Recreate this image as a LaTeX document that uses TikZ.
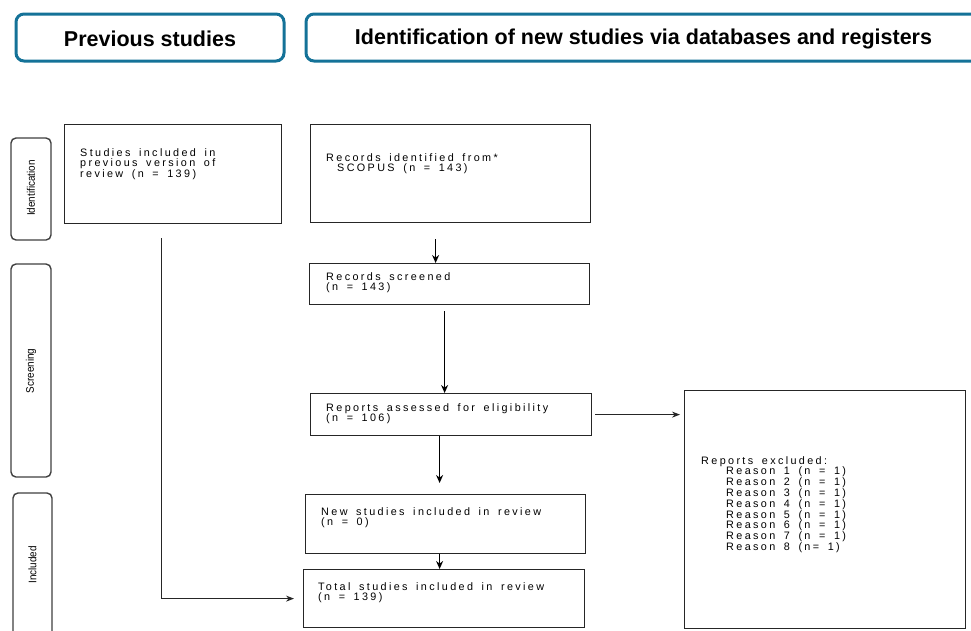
\documentclass[tikz,border=0pt]{standalone}
\usepackage{fontspec}
\setmainfont{Liberation Sans}
\newfontfamily\bxfont[LetterSpace=22,WordSpace=1.6]{Liberation Sans}
\newfontfamily\sidefont[FakeStretch=0.9]{Liberation Sans}
\usetikzlibrary{arrows.meta}
\definecolor{hdrblue}{RGB}{20,114,152}
\definecolor{sidegray}{RGB}{64,64,64}
\tikzset{
  hdrbox/.style={draw=hdrblue, line width=3pt, rounded corners=8pt},
  sidebox/.style={draw=sidegray, line width=1.4pt, rounded corners=5pt},
  flowbox/.style={draw=black!85, line width=1.2pt},
  hdrtext/.style={font=\fontsize{21.5}{24}\selectfont\bfseries, inner sep=0pt},
  sidetext/.style={font=\sidefont\fontsize{11}{12}\selectfont, rotate=90, inner sep=0pt},
  bxtext/.style={font=\bxfont\fontsize{10.8}{10.8}\selectfont, anchor=north west, align=left, inner sep=0pt},
  arr/.style={-{Stealth[length=8pt,width=7pt]}, line width=1.3pt, black},
  thinarr/.style={-{Stealth[length=8pt,width=6pt]}, line width=0.9pt, black!85},
}
\begin{document}
\begin{tikzpicture}[x=1pt,y=-1pt]
\useasboundingbox[fill=white] (0,0) rectangle (971,630);

% headers
\draw[hdrbox] (16,14) rectangle (284,61);
\node[hdrtext] (hprev) at (150,38.5) {Previous studies};
\draw[hdrbox] (306,14) rectangle (990,61);
\node[hdrtext] (hnew) at (643.5,38.5) {Identification of new studies via databases and registers};

% side labels
\draw[sidebox] (11,138) rectangle (51,240);
\node[sidetext] (sid) at (31,188) {Identification};
\draw[sidebox] (11,264) rectangle (51,477);
\node[sidetext] (sscr) at (31,371) {Screening};
\draw[sidebox] (13,493) rectangle (52,650);
\node[sidetext] (sinc) at (32.5,565) {Included};

% boxes
\node[flowbox, anchor=north west, minimum width=217pt, minimum height=99pt, inner sep=0pt] (prev) at (64,124) {};
\node[bxtext] (prevt) at (80,148) {Studies included in\\previous version of\\review (n = 139)};

\node[flowbox, anchor=north west, minimum width=280pt, minimum height=98pt, inner sep=0pt] (rec) at (310,124) {};
\node[bxtext] (rect) at (326,153) {Records identified from*\\\hspace*{11pt}SCOPUS (n = 143)};

\node[flowbox, anchor=north west, minimum width=280pt, minimum height=41pt, inner sep=0pt] (scr) at (309,263) {};
\node[bxtext] (scrt) at (326,272) {Records screened\\(n = 143)};

\node[flowbox, anchor=north west, minimum width=281pt, minimum height=42pt, inner sep=0pt] (rep) at (310,393) {};
\node[bxtext] (rept) at (326,403) {Reports assessed for eligibility\\(n = 106)};

\node[flowbox, anchor=north west, minimum width=281pt, minimum height=238pt, inner sep=0pt] (exc) at (684,390) {};
\node[bxtext] (exct) at (701,456) {Reports excluded:\\
\hspace*{25pt}Reason 1 (n = 1)\\
\hspace*{25pt}Reason 2 (n = 1)\\
\hspace*{25pt}Reason 3 (n = 1)\\
\hspace*{25pt}Reason 4 (n = 1)\\
\hspace*{25pt}Reason 5 (n = 1)\\
\hspace*{25pt}Reason 6 (n = 1)\\
\hspace*{25pt}Reason 7 (n = 1)\\
\hspace*{25pt}Reason 8 (n= 1)};

\node[flowbox, anchor=north west, minimum width=280pt, minimum height=59pt, inner sep=0pt] (newst) at (305,494) {};
\node[bxtext] (newt) at (321,507) {New studies included in review\\(n = 0)};

\node[flowbox, anchor=north west, minimum width=281pt, minimum height=58pt, inner sep=0pt] (tot) at (303,569) {};
\node[bxtext] (tott) at (318,582) {Total studies included in review\\(n = 139)};

% connectors
\coordinate (prevdown) at (161,238);
\draw[thinarr] (prevdown) |- ([xshift=-9pt]tot.west);
\draw[arr, shorten <=16pt] ([xshift=-15pt]rec.south) -- ([xshift=-14pt]scr.north);
\draw[arr, shorten <=6pt] ([xshift=-5pt]scr.south) -- ([xshift=-5pt]scr.south |- rep.north);
\draw[thinarr, shorten <=3pt, shorten >=4pt] (rep.east) -- (exc.west |- rep.east);
\draw[arr, shorten >=11pt] ([xshift=-11.5pt]rep.south) -- ([xshift=-11.5pt]rep.south |- newst.north);
\draw[arr] ([xshift=-6pt]newst.south) -- ([xshift=-6pt]newst.south |- tot.north);
\end{tikzpicture}
\end{document}
